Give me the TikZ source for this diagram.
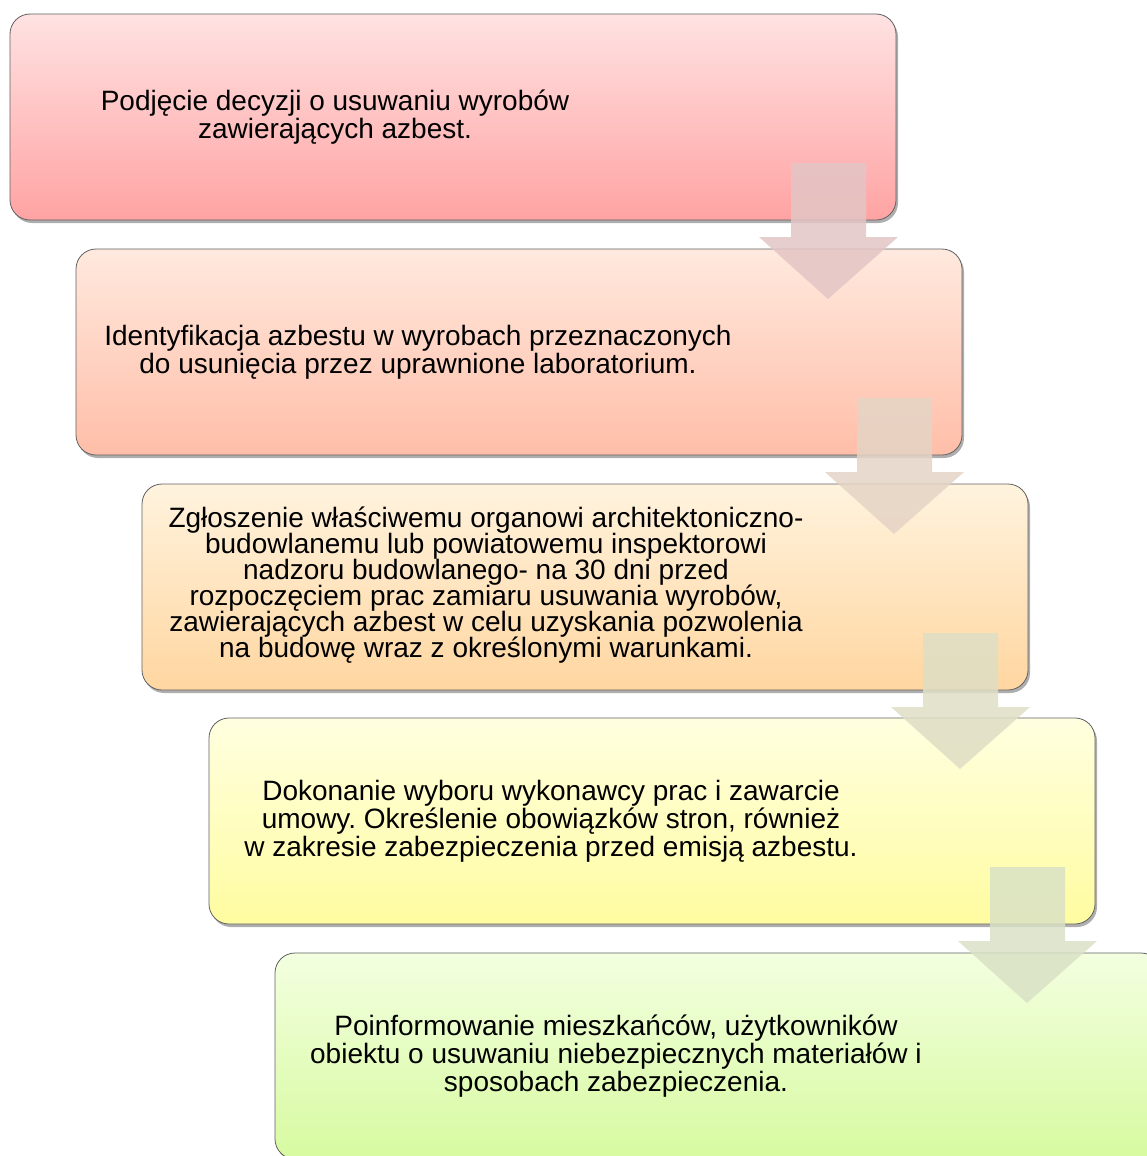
\documentclass[tikz,border=0pt]{standalone}
\usepackage{fontspec}
\setmainfont{Liberation Sans}
\frenchspacing
\usetikzlibrary{calc,shadows}

\definecolor{boxOneTop}{RGB}{255,226,226}
\definecolor{boxOneBot}{RGB}{255,163,163}
\definecolor{boxTwoTop}{RGB}{255,233,222}
\definecolor{boxTwoBot}{RGB}{255,190,168}
\definecolor{boxThreeTop}{RGB}{255,243,222}
\definecolor{boxThreeBot}{RGB}{255,214,160}
\definecolor{boxFourTop}{RGB}{255,255,224}
\definecolor{boxFourBot}{RGB}{255,252,160}
\definecolor{boxFiveTop}{RGB}{243,255,224}
\definecolor{boxFiveBot}{RGB}{215,250,160}
\definecolor{arrowOne}{RGB}{227,197,197}
\definecolor{arrowTwo}{RGB}{228,212,197}
\definecolor{arrowThree}{RGB}{223,222,197}
\definecolor{arrowFour}{RGB}{217,225,197}

\newcommand{\boxFont}[1]{\fontsize{28}{#1}\selectfont\lineskiplimit=-20pt\relax}

% block arrow hanging from the lower right corner of a box
\newcommand{\stepArrow}[2]{%
  \fill[#2, opacity=0.85] ($(#1.south east)+(-105,-57)$) -- ++(75,0) -- ++(0,74) -- ++(32,0)
    -- ($(#1.south east)+(-68,79)$) -- ($(#1.south east)+(-137,17)$) -- ++(32,0) -- cycle;}

\begin{document}
\begin{tikzpicture}[x=1pt, y=-1pt,
    boxStyle/.style={rectangle, rounded corners=20pt, draw=black!62, line width=0.8pt,
      minimum width=886pt, minimum height=206pt, outer sep=0pt,
      drop shadow={shadow xshift=2pt, shadow yshift=-3pt, opacity=0.45, fill=black!70}},
    textStyle/.style={align=center, font=\boxFont{28}}]
    \useasboundingbox (0,0) rectangle (1147,1156);
    \clip (0,0) rectangle (1147,1156);

    \node[boxStyle, top color=boxOneTop, bottom color=boxOneBot](b1) at (453,117) {};
    \node[boxStyle, top color=boxTwoTop, bottom color=boxTwoBot](b2) at (519,352) {};
    \node[boxStyle, top color=boxThreeTop, bottom color=boxThreeBot](b3) at (585,587) {};
    \node[boxStyle, top color=boxFourTop, bottom color=boxFourBot](b4) at (652,821) {};
    \node[boxStyle, top color=boxFiveTop, bottom color=boxFiveBot](b5) at (718,1056) {};

    \node[textStyle](t1) at ($(b1.center)+(-118,0)$) {Podjęcie decyzji o usuwaniu wyrobów\\zawierających azbest.};
    \node[textStyle](t2) at ($(b2.center)+(-101,0)$) {Identyfikacja azbestu w wyrobach przeznaczonych\\do usunięcia przez uprawnione laboratorium.};
    \node[textStyle, font=\boxFont{26}](t3) at ($(b3.center)+(-99,-2)$) {Zgłoszenie właściwemu organowi architektoniczno-\\budowlanemu lub powiatowemu inspektorowi\\nadzoru budowlanego- na 30 dni przed\\rozpoczęciem prac zamiaru usuwania wyrobów,\\zawierających azbest w celu uzyskania pozwolenia\\na budowę wraz z określonymi warunkami.};
    \node[textStyle](t4) at ($(b4.center)+(-101,0)$) {Dokonanie wyboru wykonawcy prac i zawarcie\\umowy. Określenie obowiązków stron, również\\w zakresie zabezpieczenia przed emisją azbestu.};
    \node[textStyle](t5) at ($(b5.center)+(-102,0)$) {Poinformowanie mieszkańców, użytkowników\\obiektu o usuwaniu niebezpiecznych materiałów i\\sposobach zabezpieczenia.};

    \stepArrow{b1}{arrowOne}
    \stepArrow{b2}{arrowTwo}
    \stepArrow{b3}{arrowThree}
    \stepArrow{b4}{arrowFour}
\end{tikzpicture}
\end{document}
